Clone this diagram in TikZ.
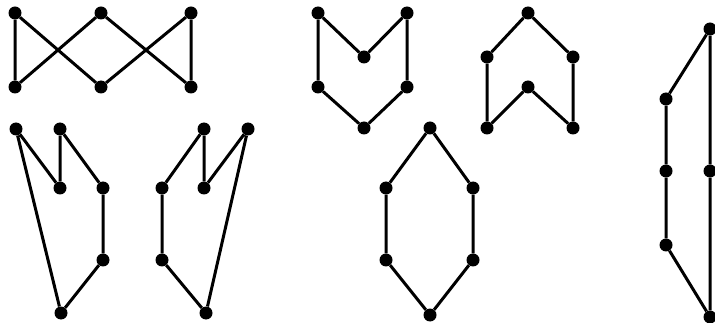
\documentclass[tikz,border=0pt]{standalone}
\begin{document}
\begin{tikzpicture}[x=1pt,y=-1pt,
  dot/.style={circle,fill=black,inner sep=0pt,minimum size=13pt},
  edge/.style={line width=3pt}]
\useasboundingbox (0,0) rectangle (715,323);
% graph 1
\node[dot] (a1) at (15,13) {};
\node[dot] (a2) at (101,13) {};
\node[dot] (a3) at (191,13) {};
\node[dot] (a4) at (15,87) {};
\node[dot] (a5) at (101,87) {};
\node[dot] (a6) at (191,87) {};
\draw[edge] (a1)--(a4) (a1)--(a5) (a2)--(a4) (a2)--(a6) (a3)--(a5) (a3)--(a6);
% graph 2
\node[dot] (b1) at (16,129) {};
\node[dot] (b2) at (60,129) {};
\node[dot] (b3) at (60,188) {};
\node[dot] (b4) at (103,188) {};
\node[dot] (b5) at (103,260) {};
\node[dot] (b6) at (61,313) {};
\draw[edge] (b1)--(b3) (b1)--(b6) (b2)--(b3) (b2)--(b4) (b4)--(b5) (b5)--(b6);
% graph 3
\node[dot] (c1) at (204,129) {};
\node[dot] (c2) at (248,129) {};
\node[dot] (c3) at (162,188) {};
\node[dot] (c4) at (204,188) {};
\node[dot] (c5) at (162,260) {};
\node[dot] (c6) at (206,313) {};
\draw[edge] (c1)--(c3) (c1)--(c4) (c2)--(c4) (c2)--(c6) (c3)--(c5) (c5)--(c6);
% graph 4
\node[dot] (d1) at (318,13) {};
\node[dot] (d2) at (407,13) {};
\node[dot] (d3) at (364,57) {};
\node[dot] (d4) at (318,87) {};
\node[dot] (d5) at (407,87) {};
\node[dot] (d6) at (364,128) {};
\draw[edge] (d1)--(d3) (d2)--(d3) (d1)--(d4) (d2)--(d5) (d4)--(d6) (d5)--(d6);
% graph 5
\node[dot] (e1) at (528,13) {};
\node[dot] (e2) at (487,57) {};
\node[dot] (e3) at (573,57) {};
\node[dot] (e4) at (528,87) {};
\node[dot] (e5) at (487,128) {};
\node[dot] (e6) at (573,128) {};
\draw[edge] (e1)--(e2) (e1)--(e3) (e2)--(e5) (e3)--(e6) (e5)--(e4) (e6)--(e4);
% graph 6
\node[dot] (f1) at (430,128) {};
\node[dot] (f2) at (386,188) {};
\node[dot] (f3) at (473,188) {};
\node[dot] (f4) at (386,260) {};
\node[dot] (f5) at (473,260) {};
\node[dot] (f6) at (430,315) {};
\draw[edge] (f1)--(f2) (f1)--(f3) (f2)--(f4) (f3)--(f5) (f4)--(f6) (f5)--(f6);
% graph 7
\node[dot] (g1) at (710,29) {};
\node[dot] (g2) at (666,99) {};
\node[dot] (g3) at (666,171) {};
\node[dot] (g4) at (710,171) {};
\node[dot] (g5) at (666,245) {};
\node[dot] (g6) at (710,317) {};
\draw[edge] (g1)--(g2) (g2)--(g3) (g3)--(g5) (g5)--(g6) (g6)--(g4) (g4)--(g1);
\end{tikzpicture}
\end{document}
